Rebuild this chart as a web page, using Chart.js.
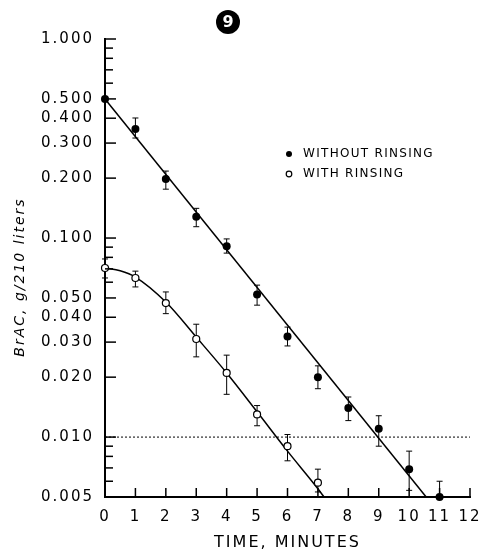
<!DOCTYPE html>
<html>
<head>
<meta charset="utf-8">
<script src="https://cdn.jsdelivr.net/npm/chart.js@4/dist/chart.umd.min.js"></script>
<style>
html,body{margin:0;padding:0;background:#fff;}
#wrap{width:480px;height:554px;}
canvas{display:block;}
</style>
</head>
<body>
<div id="wrap"><canvas id="c" width="480" height="554"></canvas></div>
<script>
// ---- data ----
const minutes = [0, 1, 2, 3, 4, 5, 6, 7, 8, 9, 10, 11];
const withoutRinsing     = [0.500, 0.353, 0.198, 0.128, 0.091, 0.052, 0.032, 0.020, 0.014, 0.011, 0.0069, 0.0050];
const withoutRinsingLow  = [null,  0.318, 0.176, 0.114, 0.084, 0.046, 0.0287, 0.0175, 0.0121, 0.0090, 0.0054, null];
const withoutRinsingHigh = [null,  0.401, 0.217, 0.141, 0.099, 0.058, 0.0357, 0.0228, 0.0159, 0.0128, 0.0085, 0.0060];

const rinsingMinutes  = [0, 1, 2, 3, 4, 5, 6, 7];
const withRinsing     = [0.0707, 0.0630, 0.0471, 0.0311, 0.0210, 0.0130, 0.0090, 0.0059];
const withRinsingLow  = [0.0630, 0.0568, 0.0417, 0.0253, 0.0164, 0.0114, 0.0076, 0.0053];
const withRinsingHigh = [0.0785, 0.0682, 0.0536, 0.0369, 0.0258, 0.0144, 0.0103, 0.0069];

// fitted lines as drawn in the figure
const withoutFitX = [0, 10.56];
const withoutFitY = [0.500, 0.005];
const withFitX = [0, 0.5, 1, 2, 3, 4, 5, 6, 7, 7.2];
const withFitY = [0.0707, 0.0685, 0.0637, 0.0477, 0.0318, 0.0210, 0.0134, 0.0085, 0.0055, 0.0050];

const limitX = [0, 12];
const limitY = [0.010, 0.010];

const xTickValues = [0, 1, 2, 3, 4, 5, 6, 7, 8, 9, 10, 11, 12];
const yTickValues = [0.005, 0.006, 0.007, 0.008, 0.009, 0.01, 0.02, 0.03, 0.04, 0.05, 0.06, 0.07, 0.08, 0.09, 0.1, 0.2, 0.3, 0.4, 0.5, 0.6, 0.7, 0.8, 0.9, 1.0];
const yTickLabels = ['0.005', '', '', '', '', '0.010', '0.020', '0.030', '0.040', '0.050', '', '', '', '', '0.100', '0.200', '0.300', '0.400', '0.500', '', '', '', '', '1.000'];

const legendLabels = ['WITHOUT RINSING', 'WITH RINSING'];
const yTitle = 'BrAC, g/210 liters';
const xTitle = 'TIME, MINUTES';
const panelNumber = '9';

const pts = (xs, ys) => xs.map((x, i) => ({x: x, y: ys[i]}));

// ---- plugins ----
const spacing = {
  id: 'spacing',
  beforeDraw(chart) { chart.ctx.letterSpacing = '2px'; }
};

const errorBars = {
  id: 'errorBars',
  beforeDatasetsDraw(chart) {
    const {ctx, scales: {x, y}} = chart;
    ctx.save();
    ctx.strokeStyle = '#000';
    ctx.lineWidth = 1;
    const draw = (xs, vals, lo, hi) => {
      xs.forEach((xv, i) => {
        if (lo[i] == null && hi[i] == null) return;
        const px = x.getPixelForValue(xv);
        const pv = y.getPixelForValue(vals[i]);
        const top = hi[i] != null ? y.getPixelForValue(hi[i]) : pv;
        const bot = lo[i] != null ? y.getPixelForValue(lo[i]) : pv;
        ctx.beginPath();
        ctx.moveTo(px, top); ctx.lineTo(px, bot);
        if (hi[i] != null) { ctx.moveTo(px - 3, top); ctx.lineTo(px + 3, top); }
        if (lo[i] != null) { ctx.moveTo(px - 3, bot); ctx.lineTo(px + 3, bot); }
        ctx.stroke();
      });
    };
    draw(minutes, withoutRinsing, withoutRinsingLow, withoutRinsingHigh);
    draw(rinsingMinutes, withRinsing, withRinsingLow, withRinsingHigh);
    ctx.restore();
  }
};

const decorations = {
  id: 'decorations',
  afterDraw(chart) {
    const {ctx, chartArea: a, scales: {x, y}} = chart;
    ctx.save();
    ctx.letterSpacing = '0px';
    ctx.strokeStyle = '#000';
    ctx.lineWidth = 1.5;
    // inward ticks on y axis
    yTickValues.forEach((v, i) => {
      const py = y.getPixelForValue(v);
      const len = yTickLabels[i] ? 11 : 8;
      ctx.beginPath(); ctx.moveTo(a.left, py); ctx.lineTo(a.left + len, py); ctx.stroke();
    });
    // inward ticks on x axis
    xTickValues.forEach(v => {
      if (v === 0) return;
      const px = x.getPixelForValue(v);
      ctx.beginPath(); ctx.moveTo(px, a.bottom); ctx.lineTo(px, a.bottom - 9); ctx.stroke();
    });

    // y-axis title
    ctx.save();
    ctx.translate(20, 277);
    ctx.rotate(-Math.PI / 2);
    ctx.font = 'italic 14px "DejaVu Sans"';
    ctx.letterSpacing = '2px';
    ctx.fillStyle = '#000';
    ctx.textAlign = 'center';
    ctx.textBaseline = 'middle';
    ctx.fillText(yTitle, 0, 0);
    ctx.restore();

    // legend
    ctx.fillStyle = '#000';
    ctx.beginPath(); ctx.arc(289, 154, 3, 0, Math.PI * 2); ctx.fill();
    ctx.lineWidth = 1.2;
    ctx.beginPath(); ctx.arc(289, 174, 2.8, 0, Math.PI * 2);
    ctx.fillStyle = '#fff'; ctx.fill(); ctx.stroke();
    ctx.fillStyle = '#000';
    ctx.font = '12px "DejaVu Sans"';
    ctx.letterSpacing = '1.3px';
    ctx.textAlign = 'left';
    ctx.textBaseline = 'middle';
    ctx.fillText(legendLabels[0], 303, 154);
    ctx.fillText(legendLabels[1], 303, 174);

    // panel number
    ctx.letterSpacing = '0px';
    ctx.beginPath(); ctx.arc(228, 22, 12, 0, Math.PI * 2); ctx.fill();
    ctx.fillStyle = '#fff';
    ctx.font = 'bold 16px "DejaVu Sans"';
    ctx.textAlign = 'center';
    ctx.fillText(panelNumber, 228, 23);
    ctx.restore();
  }
};

// ---- chart ----
new Chart(document.getElementById('c'), {
  type: 'scatter',
  data: {
    datasets: [
      {
        label: legendLabels[0],
        data: pts(minutes, withoutRinsing),
        showLine: false,
        pointRadius: 4,
        pointBackgroundColor: '#000',
        pointBorderColor: '#000',
        pointBorderWidth: 0,
        clip: false,
        order: 0
      },
      {
        label: legendLabels[1],
        data: pts(rinsingMinutes, withRinsing),
        showLine: false,
        pointRadius: 3.5,
        pointBackgroundColor: '#fff',
        pointBorderColor: '#000',
        pointBorderWidth: 1.2,
        clip: false,
        order: 0
      },
      {
        label: 'fit without',
        data: pts(withoutFitX, withoutFitY),
        showLine: true,
        pointRadius: 0,
        borderColor: '#000',
        borderWidth: 1.5,
        clip: false,
        order: 1
      },
      {
        label: 'fit with',
        data: pts(withFitX, withFitY),
        showLine: true,
        cubicInterpolationMode: 'monotone',
        pointRadius: 0,
        borderColor: '#000',
        borderWidth: 1.5,
        clip: false,
        order: 1
      },
      {
        label: 'limit',
        data: pts(limitX, limitY),
        showLine: true,
        pointRadius: 0,
        borderColor: '#000',
        borderWidth: 1,
        borderDash: [2, 2],
        order: 2
      }
    ]
  },
  options: {
    responsive: false,
    animation: false,
    devicePixelRatio: 1,
    layout: {padding: {left: 0, right: 10, top: 39, bottom: 0}},
    plugins: {legend: {display: false}, tooltip: {enabled: false}},
    scales: {
      x: {
        type: 'linear',
        position: 'bottom',
        min: 0,
        max: 12,
        afterBuildTicks: s => { s.ticks = xTickValues.map(v => ({value: v})); },
        afterFit: s => { s.height = 57; s.paddingLeft = 0; s.paddingRight = 0; },
        ticks: {
          callback: v => String(v),
          font: {family: 'DejaVu Sans', size: 15, lineHeight: 1.2},
          color: '#000',
          padding: 11,
          maxRotation: 0,
          autoSkip: false
        },
        grid: {display: false, drawTicks: false},
        border: {display: true, color: '#000', width: 2},
        title: {
          display: true,
          text: xTitle,
          color: '#000',
          font: {family: 'DejaVu Sans', size: 16, lineHeight: 1.2},
          padding: {top: 0, bottom: 2}
        }
      },
      y: {
        type: 'logarithmic',
        position: 'left',
        min: 0.005,
        max: 1.0,
        afterBuildTicks: s => { s.ticks = yTickValues.map(v => ({value: v})); },
        afterFit: s => { s.width = 105; s.paddingTop = 0; s.paddingBottom = 0; },
        ticks: {
          callback: (v, i) => yTickLabels[i],
          font: {family: 'DejaVu Sans', size: 15, lineHeight: 1.2},
          color: '#000',
          padding: 11,
          autoSkip: false
        },
        grid: {display: false, drawTicks: false},
        border: {display: true, color: '#000', width: 2}
      }
    }
  },
  plugins: [spacing, errorBars, decorations]
});
</script>
</body>
</html>
